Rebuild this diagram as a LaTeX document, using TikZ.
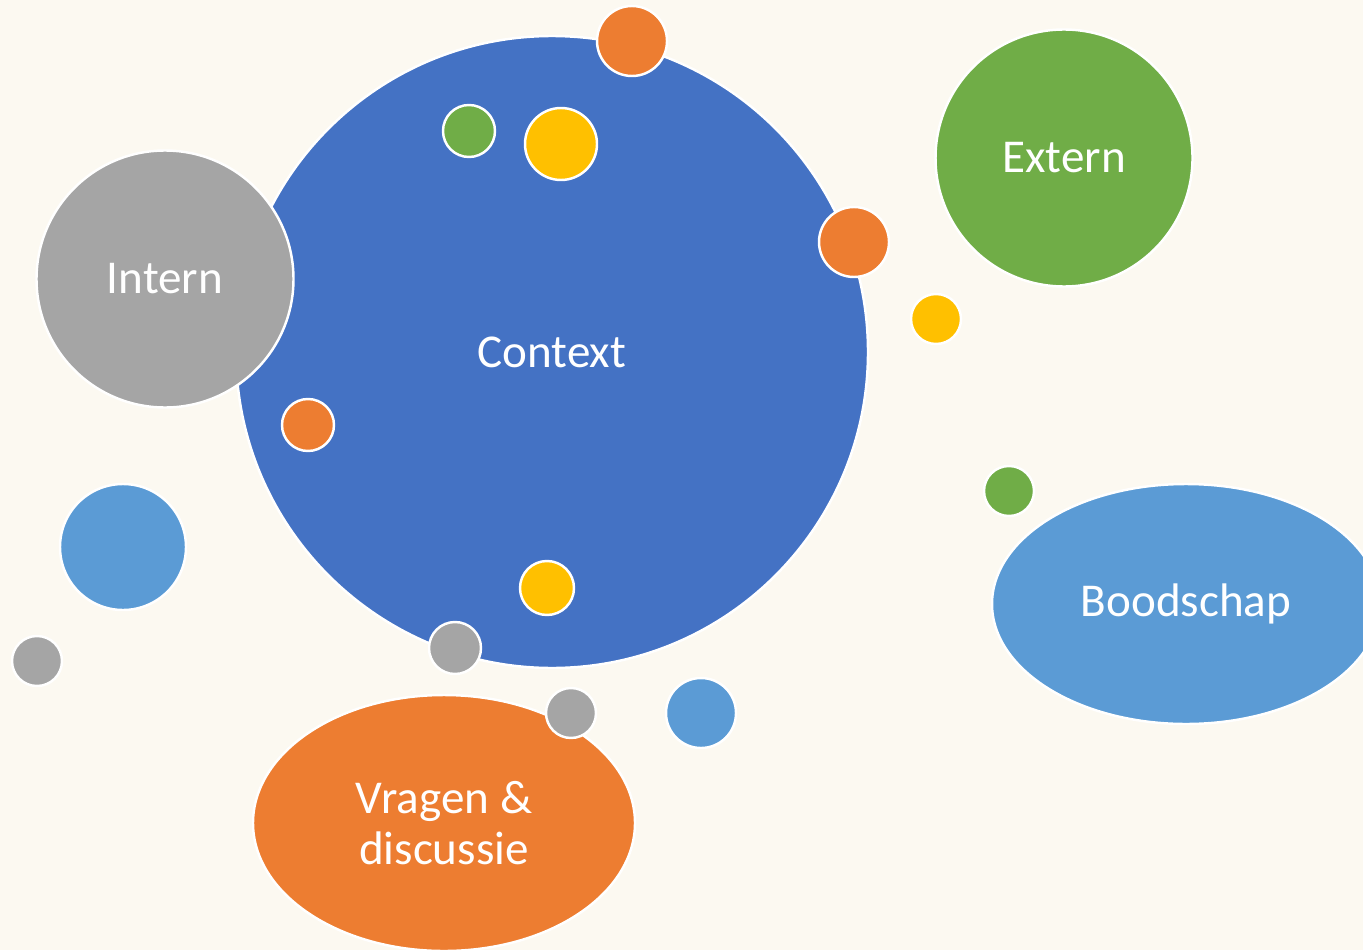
\documentclass[tikz,border=0pt]{standalone}
\usepackage{fontspec}
\setmainfont{Carlito}
\usetikzlibrary{shapes.geometric}
\definecolor{bgcream}{HTML}{FCF9F1}
\definecolor{ctxblue}{HTML}{4472C4}
\definecolor{lightblue}{HTML}{5B9BD5}
\definecolor{softgray}{HTML}{A5A5A5}
\definecolor{leafgreen}{HTML}{70AD47}
\definecolor{warmorange}{HTML}{ED7D31}
\definecolor{sunyellow}{HTML}{FFC000}
\tikzstyle{bubble} = [circle, inner sep=0pt, draw=white, line width=0.7pt, text=white, font=\fontsize{13.4pt}{14.5pt}\selectfont]
\tikzstyle{blob} = [ellipse, inner sep=0pt, draw=white, line width=0.7pt, text=white, align=center, font=\fontsize{13.4pt}{14.5pt}\selectfont]
\tikzstyle{dot} = [circle, inner sep=0pt, draw=white, line width=0.7pt]

\begin{document}
\begin{tikzpicture}

    % Background
    \fill[bgcream] (0,0) rectangle (13.63,-9.5);
    \useasboundingbox (0,0) rectangle (13.63,-9.5);
    \clip (0,0) rectangle (13.63,-9.5);

    % Nodes
    \node (context) [bubble, fill=ctxblue, minimum size=6.32cm] at (5.52,-3.52) {Context};
    \node (intern) [bubble, fill=softgray, minimum size=2.57cm] at (1.65,-2.79) {Intern};
    \node (extern) [bubble, fill=leafgreen, minimum size=2.57cm] at (10.64,-1.58) {Extern};
    \node (boodschap) [blob, fill=lightblue, minimum width=3.88cm, minimum height=2.40cm] at (11.86,-6.04) {Boodschap};
    \node (vragen) [blob, fill=warmorange, minimum width=3.82cm, minimum height=2.56cm] at (4.44,-8.23) {Vragen \&\\discussie};

    % Small dots
    \node (dottop) [dot, fill=warmorange, minimum size=0.70cm] at (6.32,-0.41) {};
    \node (dotgreenin) [dot, fill=leafgreen, minimum size=0.52cm] at (4.69,-1.31) {};
    \node (dotyellowin) [dot, fill=sunyellow, minimum size=0.72cm] at (5.61,-1.44) {};
    \node (dotright) [dot, fill=warmorange, minimum size=0.70cm] at (8.54,-2.42) {};
    \node (dotyellowout) [dot, fill=sunyellow, minimum size=0.50cm] at (9.36,-3.19) {};
    \node (dotleft) [dot, fill=warmorange, minimum size=0.52cm] at (3.08,-4.25) {};
    \node (dotgreenout) [dot, fill=leafgreen, minimum size=0.50cm] at (10.09,-4.91) {};
    \node (dotblueleft) [dot, fill=lightblue, minimum size=1.26cm] at (1.23,-5.47) {};
    \node (dotgrayleft) [dot, fill=softgray, minimum size=0.50cm] at (0.37,-6.61) {};
    \node (dotyellowlow) [dot, fill=sunyellow, minimum size=0.54cm] at (5.47,-5.88) {};
    \node (dotgrayrim) [dot, fill=softgray, minimum size=0.52cm] at (4.55,-6.48) {};
    \node (dotgraylow) [dot, fill=softgray, minimum size=0.50cm] at (5.71,-7.13) {};
    \node (dotbluelow) [dot, fill=lightblue, minimum size=0.70cm] at (7.01,-7.13) {};

\end{tikzpicture}
\end{document}
